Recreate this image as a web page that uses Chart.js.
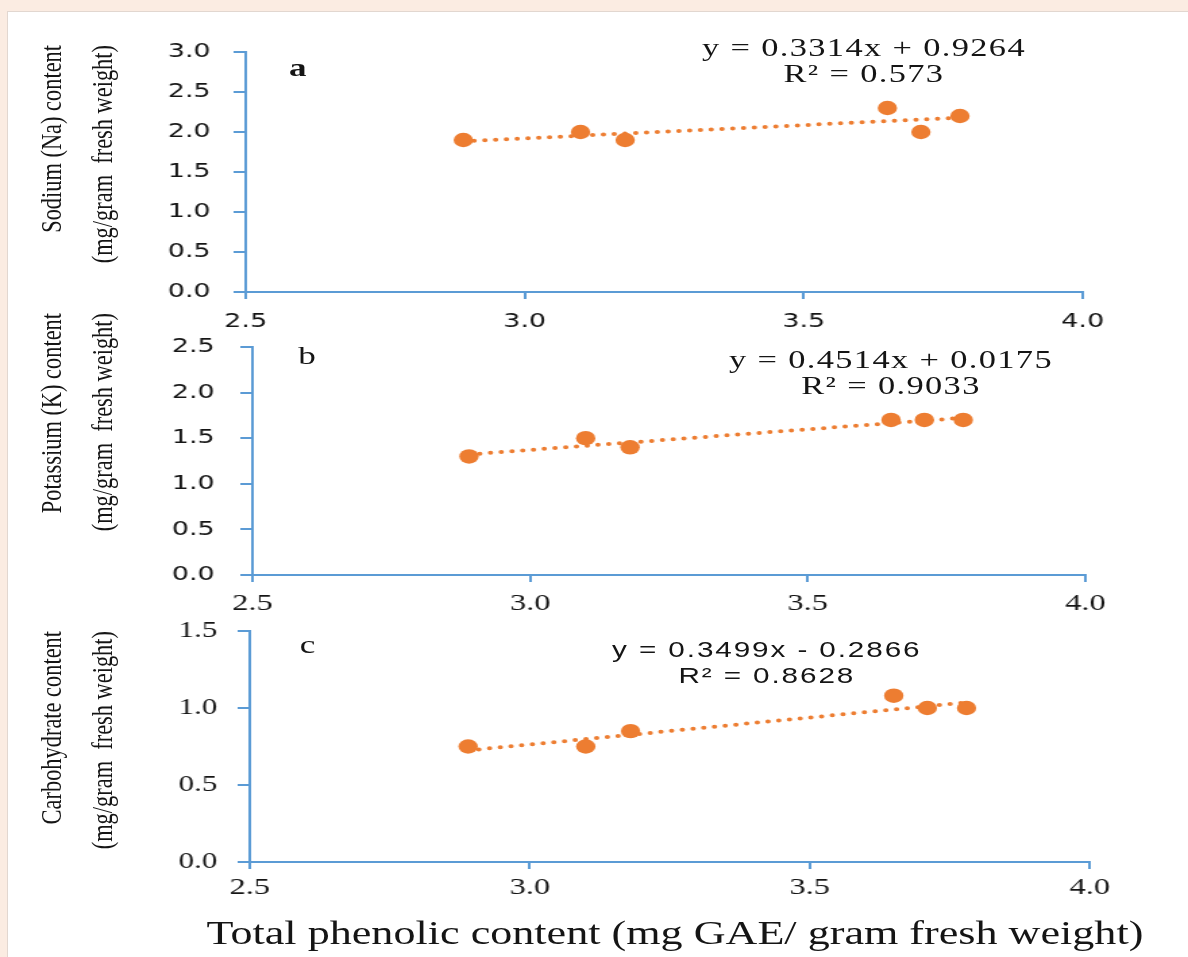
<!DOCTYPE html>
<html>
<head>
<meta charset="utf-8">
<script src="https://cdn.jsdelivr.net/npm/chart.js@4"></script>
<style>
  html, body { margin: 0; padding: 0; }
  body { width: 1188px; height: 957px; background: #fbece2; position: relative; overflow: hidden; }
  .sheet { position: absolute; left: 7px; top: 11px; right: 0; bottom: 0; background: #fff;
           border-left: 1px solid #e2d7d0; border-top: 1px solid #e2d7d0; }
  /* whole figure is laid out narrow and widened by the same factor */
  .wide { position: absolute; left: 0; top: 0; width: 880px; height: 957px;
          transform: scaleX(1.35); transform-origin: 0 0; }
  canvas { position: absolute; }
  .txt { position: absolute; color: #151515; white-space: nowrap; }
  .serif { font-family: "Liberation Serif", "DejaVu Serif", serif; }
  .eq { width: 400px; text-align: center; font-size: 25.5px; line-height: 26px; letter-spacing: 1px; }
  .eq.sans { font-family: "Liberation Sans", Arial, sans-serif; font-size: 22px; letter-spacing: 1.4px; }
  .ytitle { width: 300px; text-align: right; font-size: 22.4px; line-height: 38px;
            transform: rotate(-90deg); transform-origin: 0 0; }
  .letter { font-size: 26px; line-height: 30px; }
</style>
</head>
<body>
<div class="sheet"></div>
<div class="wide" id="wide">
  <canvas id="naChart"></canvas>
  <canvas id="kChart"></canvas>
  <canvas id="carbChart"></canvas>

  <div class="txt serif ytitle" style="left:19px; top:345px;">Sodium (Na) content<br>(mg/gram&nbsp; fresh weight)</div>
  <div class="txt serif ytitle" style="left:19px; top:613px;">Potassium (K) content<br>(mg/gram&nbsp; fresh weight)</div>
  <div class="txt serif ytitle" style="left:19px; top:931px;">Carbohydrate content<br>(mg/gram&nbsp; fresh weight)</div>

  <div class="txt serif letter" style="left:214px; top:53px; font-weight:bold;">a</div>
  <div class="txt serif letter" style="left:221px; top:341px;">b</div>
  <div class="txt serif letter" style="left:222px; top:630px;">c</div>

  <div class="txt serif eq" id="eqNa" style="left:440px; top:35px;"></div>
  <div class="txt serif eq" id="eqK" style="left:460px; top:347px;"></div>
  <div class="txt eq sans" id="eqCarb" style="left:368px; top:637px;"></div>

  <div class="txt serif" style="left:150px; top:913px; width:700px; text-align:center; font-size:32.7px; line-height:40px;">Total phenolic content (mg GAE/ gram fresh weight)</div>
</div>

<script>
// phenolic content (x) and the three measured contents (y)
const phenolic = [2.89, 3.10, 3.18, 3.65, 3.71, 3.78];
const sodium = [1.9, 2.0, 1.9, 2.3, 2.0, 2.2];
const potassium = [1.3, 1.5, 1.4, 1.7, 1.7, 1.7];
const carbohydrate = [0.75, 0.75, 0.85, 1.08, 1.0, 1.0];

// linear trendlines: slope, intercept, R²
const slopes = [0.3314, 0.4514, 0.3499];
const intercepts = [0.9264, 0.0175, -0.2866];
const rSquared = ['0.573', '0.9033', '0.8628'];

const xTicks = [2.5, 3.0, 3.5, 4.0];
const naTicks = [0, 0.5, 1.0, 1.5, 2.0, 2.5, 3.0];
const kTicks = [0, 0.5, 1.0, 1.5, 2.0, 2.5];
const carbTicks = [0, 0.5, 1.0, 1.5];

const orange = '#ED7D31';
const blue = '#5B9BD5';
const ink = '#151515';
const sansFont = { family: 'DejaVu Sans', size: 20 };
const serifFont = { family: 'Liberation Serif', size: 23 };
const serifFontX = { family: 'Liberation Serif', size: 24 };

function equation(i) {
  const sign = intercepts[i] < 0 ? '-' : '+';
  return 'y = ' + slopes[i].toFixed(4) + 'x ' + sign + ' ' + Math.abs(intercepts[i]).toFixed(4) +
    '<br>R² = ' + rSquared[i];
}
document.getElementById('eqNa').innerHTML = equation(0);
document.getElementById('eqK').innerHTML = equation(1);
document.getElementById('eqCarb').innerHTML = equation(2);

function drawPanel(id, box, values, fitIdx, yTicks, opts) {
  const yWidth = 80, padTop = 25, xHeight = 50;
  const canvas = document.getElementById(id);
  const w = Math.round(box.x1 - box.x0 + yWidth + 34);
  const h = Math.round(box.bottom - box.top + padTop + xHeight);
  canvas.width = w;
  canvas.height = h;
  canvas.style.width = w + 'px';
  canvas.style.height = h + 'px';
  canvas.style.left = (box.x0 - yWidth) + 'px';
  canvas.style.top = (box.top - padTop) + 'px';
  const padRight = w - yWidth - (box.x1 - box.x0);

  const first = phenolic[0], last = phenolic[phenolic.length - 1];
  const m = slopes[fitIdx], b = intercepts[fitIdx];

  new Chart(canvas.getContext('2d'), {
    type: 'scatter',
    data: {
      datasets: [
        {
          data: phenolic.map((x, i) => ({ x: x, y: values[i] })),
          backgroundColor: orange,
          borderColor: orange,
          borderWidth: 0,
          pointRadius: 7.2,
          pointHoverRadius: 7.2,
          order: 0
        },
        {
          data: [{ x: first, y: m * first + b }, { x: last, y: m * last + b }],
          showLine: true,
          borderColor: orange,
          borderWidth: 4,
          borderDash: [0, 8],
          borderCapStyle: 'round',
          pointRadius: 0,
          pointHoverRadius: 0,
          order: 1
        }
      ]
    },
    options: {
      responsive: false,
      animation: false,
      events: [],
      layout: { padding: { left: 0, top: padTop, right: padRight, bottom: 0 } },
      plugins: { legend: { display: false }, tooltip: { enabled: false } },
      scales: {
        x: {
          type: 'linear',
          min: 2.5,
          max: 4.0,
          afterBuildTicks: s => { s.ticks = xTicks.map(v => ({ value: v })); },
          afterFit: s => { s.height = xHeight; s.paddingLeft = 0; s.paddingRight = 0; },
          ticks: { callback: v => v.toFixed(1), font: opts.xFont, color: ink, padding: opts.xPad, maxRotation: 0 },
          grid: { drawOnChartArea: false, drawTicks: true, tickLength: 7, color: blue, lineWidth: 2 },
          border: { color: blue, width: 2 }
        },
        y: {
          type: 'linear',
          min: 0,
          max: yTicks[yTicks.length - 1],
          afterBuildTicks: s => { s.ticks = yTicks.map(v => ({ value: v })); },
          afterFit: s => { s.width = yWidth; s.paddingTop = 0; s.paddingBottom = 0; },
          ticks: { callback: v => v.toFixed(1), font: opts.yFont, color: ink, padding: opts.yPad },
          grid: { drawOnChartArea: false, drawTicks: true, tickLength: 9, color: blue, lineWidth: 2 },
          border: { color: blue, width: 2 }
        }
      }
    }
  });
}

drawPanel('naChart', { x0: 181.5, x1: 801.5, top: 52, bottom: 292 }, sodium, 0, naTicks,
  { xFont: sansFont, yFont: sansFont, xPad: 11, yPad: 17 });
drawPanel('kChart', { x0: 187.4, x1: 804.4, top: 347, bottom: 575 }, potassium, 1, kTicks,
  { xFont: serifFontX, yFont: sansFont, xPad: 7, yPad: 19 });
drawPanel('carbChart', { x0: 185.2, x1: 807.4, top: 631, bottom: 862 }, carbohydrate, 2, carbTicks,
  { xFont: serifFontX, yFont: serifFont, xPad: 4, yPad: 15 });
</script>
</body>
</html>
